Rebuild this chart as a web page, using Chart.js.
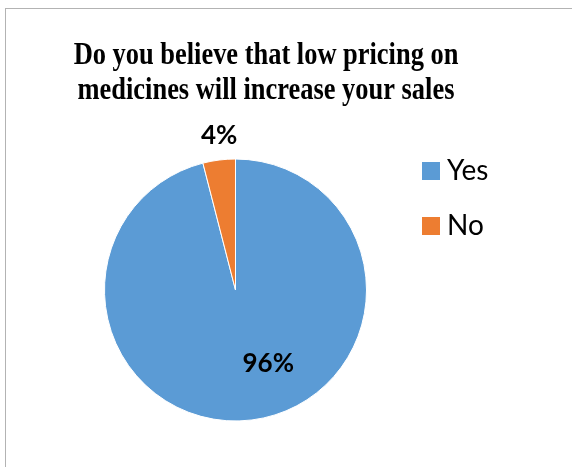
<!DOCTYPE html>
<html>
<head>
<meta charset="utf-8">
<script src="https://cdn.jsdelivr.net/npm/chart.js@4"></script>
<style>
  html, body { margin: 0; padding: 0; background: #fff; }
  #frame {
    position: absolute; left: 5px; top: 8px; width: 600px; height: 500px;
    border-left: 1px solid #b3b3b3; border-top: 1px solid #b3b3b3;
  }
  #wrap { position: absolute; left: 0; top: 0; width: 572px; height: 467px; }
</style>
</head>
<body>
<div id="frame"></div>
<div id="wrap"><canvas id="c" width="572" height="467"></canvas></div>
<script>
const titleLines = ['Do you believe that low pricing on', 'medicines will increase your sales'];
const categories = ['Yes', 'No'];
const shares = [96, 4];
const colors = ['#5B9BD5', '#ED7D31'];

// Label anchors in units of the pie radius, relative to the pie centre
const labelAnchors = [{ x: 0.25, y: 0.56 }, { x: -0.125, y: -1.18 }];

const decorations = {
  id: 'decorations',
  afterDraw(chart) {
    const ctx = chart.ctx;
    const meta = chart.getDatasetMeta(0);
    const arc0 = meta.data[0];
    const cx = arc0.x, cy = arc0.y, r = arc0.outerRadius;

    // Title (condensed serif)
    ctx.save();
    ctx.fillStyle = '#000';
    ctx.font = 'bold 32px "Liberation Serif", "Times New Roman", serif';
    ctx.textAlign = 'center';
    ctx.textBaseline = 'alphabetic';
    const titleX = 266, sx = 0.826;
    titleLines.forEach((line, i) => {
      ctx.save();
      ctx.translate(titleX, 64 + i * 35);
      ctx.scale(sx, 1);
      ctx.fillText(line, 0, 0);
      ctx.restore();
    });
    ctx.restore();

    // Data labels
    ctx.save();
    ctx.fillStyle = '#000';
    ctx.font = 'bold 26px Lato, "Open Sans", sans-serif';
    ctx.textAlign = 'center';
    ctx.textBaseline = 'middle';
    shares.forEach((v, i) => {
      const a = labelAnchors[i];
      ctx.fillText(v + '%', cx + a.x * r, cy + a.y * r);
    });
    ctx.restore();

    // Legend
    ctx.save();
    ctx.font = '28px Lato, "Open Sans", sans-serif';
    ctx.textBaseline = 'middle';
    ctx.textAlign = 'left';
    categories.forEach((name, i) => {
      const y = 171 + i * 55;
      ctx.fillStyle = colors[i];
      ctx.fillRect(422, y - 9, 18, 18);
      ctx.fillStyle = '#000';
      ctx.fillText(name, 447, y);
    });
    ctx.restore();
  }
};

new Chart(document.getElementById('c'), {
  type: 'pie',
  data: {
    labels: categories,
    datasets: [{
      data: shares,
      backgroundColor: colors,
      borderColor: '#ffffff',
      borderWidth: 1,
      hoverOffset: 0,
      offset: 0
    }]
  },
  options: {
    responsive: false,
    animation: false,
    layout: { padding: { left: 104, right: 205, top: 158, bottom: 45 } },
    plugins: {
      legend: { display: false },
      title: { display: false },
      tooltip: { enabled: false }
    }
  },
  plugins: [decorations]
});
</script>
</body>
</html>
